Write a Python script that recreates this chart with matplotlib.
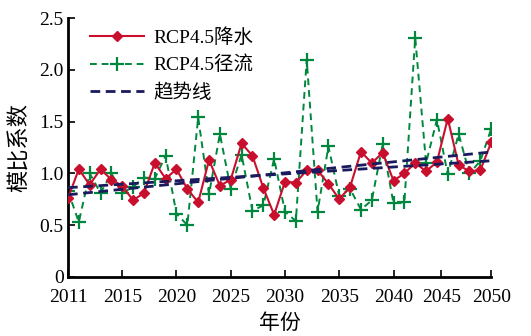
#!/usr/bin/env python3
"""RCP4.5 precipitation / runoff modular coefficient, 2011-2050."""
import numpy as np
import matplotlib

matplotlib.use("Agg")
import matplotlib.pyplot as plt

plt.rcParams["font.family"] = ["Liberation Serif", "Noto Sans CJK SC"]

years = np.arange(2011, 2051)

precip = [0.76, 1.04, 0.89, 1.04, 0.94, 0.88, 0.74, 0.81, 1.10, 0.95,
          1.04, 0.85, 0.72, 1.13, 0.88, 0.94, 1.29, 1.17, 0.86, 0.60,
          0.92, 0.91, 1.03, 1.03, 0.90, 0.75, 0.87, 1.21, 1.10, 1.20,
          0.93, 1.00, 1.10, 1.02, 1.11, 1.53, 1.08, 1.02, 1.03, 1.30]

runoff = [0.83, 0.53, 1.00, 0.81, 1.00, 0.81, 0.87, 0.96, 0.95, 1.17,
          0.61, 0.50, 1.54, 0.80, 1.38, 0.85, 1.18, 0.64, 0.69, 1.14,
          0.63, 0.54, 2.10, 0.63, 1.26, 0.78, 0.85, 0.65, 0.74, 1.28,
          0.71, 0.72, 2.31, 1.10, 1.52, 0.99, 1.38, 1.00, 1.12, 1.43]

# tick positions as drawn in the source (labels do not sit on exact years)
tick_pos = [2011, 2016, 2021, 2026, 2031, 2036, 2041, 2045.4, 2050]
tick_lbl = ["2011", "2015", "2020", "2025", "2030", "2035", "2040", "2045", "2050"]

fig = plt.figure(figsize=(5.31, 3.36), dpi=100)
ax = fig.add_axes([0.128, 0.176, 0.797, 0.770])

ax.plot(years, precip, "-", color="#c8102e", lw=1.5, marker="D", ms=5.5,
        zorder=3, label="RCP4.5降水")
ax.plot(years, runoff, "--", color="#00873e", lw=1.4, marker="+", ms=10,
        mew=1.6, dashes=(3.5, 2.5), zorder=2, label="RCP4.5径流")

for i, s in enumerate((precip, runoff)):
    k, b = np.polyfit(years, s, 1)
    ax.plot(years, k * years + b, "--", color="#1a1a5e", lw=2,
            dashes=(3.5, 2), zorder=4, label="趋势线" if i == 0 else None)

ax.set_xlim(2011, 2050)
ax.set_ylim(0, 2.5)
ax.set_xticks(tick_pos)
ax.set_xticklabels(tick_lbl)
ax.set_yticks([0, 0.5, 1.0, 1.5, 2.0, 2.5])
ax.set_yticklabels(["0", "0.5", "1.0", "1.5", "2.0", "2.5"])
ax.tick_params(direction="in", length=5, width=1.2, labelsize=14)
ax.tick_params(axis="x", pad=9)
ax.tick_params(axis="y", pad=3)
for sp in ("top", "right"):
    ax.spines[sp].set_visible(False)
for sp in ("left", "bottom"):
    ax.spines[sp].set_linewidth(2)

ax.set_xlabel("年份", fontsize=15, labelpad=6)
ax.set_ylabel("模比系数", fontsize=16, labelpad=6)

ax.legend(loc="upper left", bbox_to_anchor=(0.034, 0.99), frameon=False,
          fontsize=14, numpoints=1, handlelength=2.75, handletextpad=0.5,
          labelspacing=0.45, borderaxespad=0)

fig.savefig("out.png", dpi=100)
